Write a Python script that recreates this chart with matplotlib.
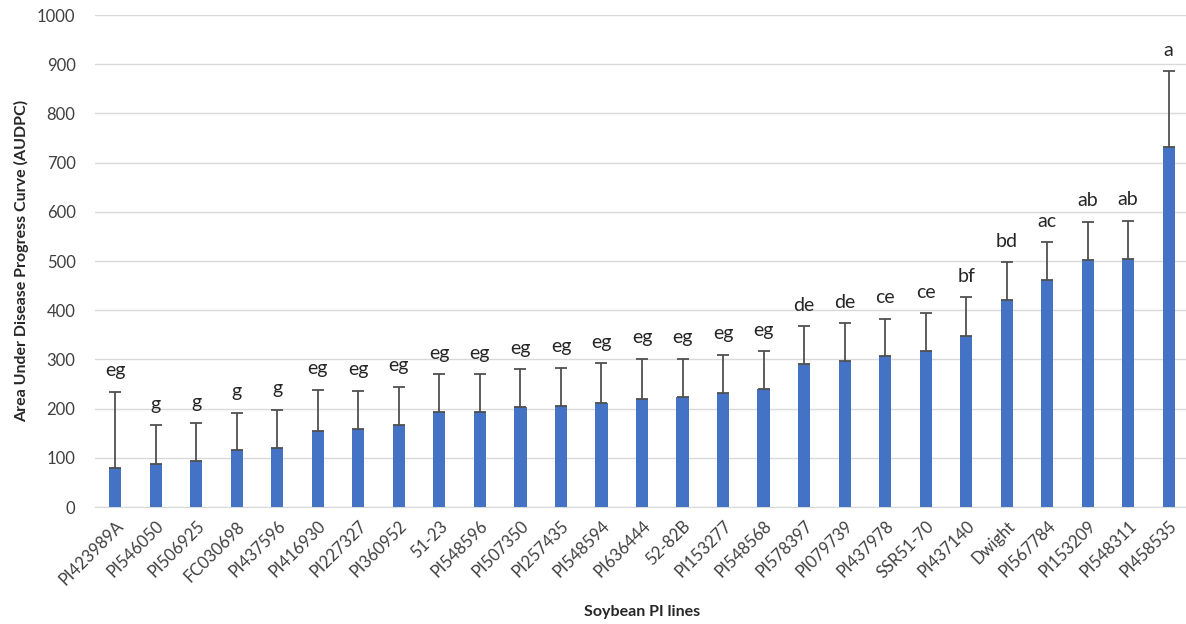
import matplotlib
matplotlib.use("Agg")
import matplotlib.pyplot as plt
import numpy as np

lines = ["PI423989A", "PI546050", "PI506925", "FC030698", "PI437596", "PI416930",
         "PI227327", "PI360952", "51-23", "PI548596", "PI507350", "PI257435",
         "PI548594", "PI636444", "52-82B", "PI153277", "PI548568", "PI578397",
         "PI079739", "PI437978", "SSR51-70", "PI437140", "Dwight", "PI567784",
         "PI153209", "PI548311", "PI458535"]
audpc = [79, 88, 93, 115, 120, 155, 158, 167, 193, 193, 204, 206, 212, 219, 224,
         232, 239, 290, 297, 306, 317, 348, 420, 461, 502, 505, 732]
err_upper = [155, 78, 77, 77, 78, 83, 78, 77, 77, 77, 76, 77, 80, 82, 77,
             77, 78, 77, 76, 77, 77, 78, 77, 77, 78, 77, 154]
letters = ["eg", "g", "g", "g", "g", "eg", "eg", "eg", "eg", "eg", "eg", "eg",
           "eg", "eg", "eg", "eg", "eg", "de", "de", "ce", "ce", "bf", "bd", "ac",
           "ab", "ab", "a"]

plt.rcParams['font.family'] = ['Lato', 'DejaVu Sans']

fig = plt.figure(figsize=(11.86, 6.24), dpi=100)
ax = fig.add_axes([95/1186, (624-507)/624, 1 - 92/1186, (507-15)/624])

x = np.arange(len(lines))
ax.bar(x, audpc, width=0.3, color="#4472C4", zorder=3)
ax.errorbar(x, audpc, yerr=[np.zeros(len(x)), err_upper], fmt="none",
            ecolor="#505050", elinewidth=1.3, capsize=4, capthick=1.3, zorder=4)
for xi, v, e, lab in zip(x, audpc, err_upper, letters):
    ax.annotate(lab, (xi, v + e), xytext=(0, 9), textcoords="offset points",
                ha="center", va="bottom", fontsize=14, color="#262626")

ax.set_xlim(-0.5, len(lines) - 0.5)
ax.set_ylim(0, 1000)
ax.set_yticks(np.arange(0, 1001, 100))
ax.yaxis.grid(True, color="#d9d9d9", linewidth=1, zorder=0)
ax.set_axisbelow(True)
for s in ["top", "right", "left"]:
    ax.spines[s].set_visible(False)
ax.spines["bottom"].set_color("#d9d9d9")
ax.tick_params(axis="both", length=0, labelsize=12, colors="#404040")
ax.tick_params(axis="y", pad=14)
ax.set_xticks(x)
ax.set_xticklabels(lines, rotation=45, ha="right", rotation_mode="anchor")
ax.tick_params(axis="x", pad=8)

ax.set_ylabel("Area Under Disease Progress Curve (AUDPC)", fontsize=11.5,
              fontweight="bold", color="#262626", labelpad=6)
ax.set_xlabel("Soybean PI lines", fontsize=11.5, fontweight="bold", color="#262626",
              labelpad=12)

fig.savefig("out.png", dpi=100)
